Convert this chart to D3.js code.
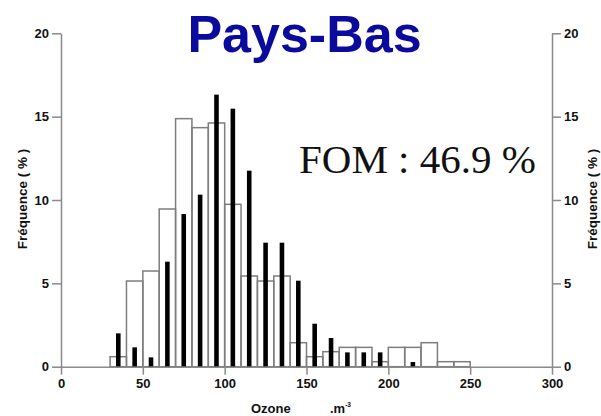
<!DOCTYPE html>
<html>
<head>
<meta charset="utf-8">
<script src="https://cdn.jsdelivr.net/npm/d3@7"></script>
<style>
  html, body { margin: 0; padding: 0; background: #fff; }
  svg { display: block; }
</style>
</head>
<body>
<svg id="chart" width="601" height="416"></svg>
<script>
// Ozone frequency histograms, Pays-Bas
// Open bars: 10-unit bins starting at modelBins, frequency in %
const modelBins = [30, 40, 50, 60, 70, 80, 90, 100, 110, 120, 130, 140, 150, 160, 170, 180, 190, 200, 210, 220, 230, 240];
const modelFreq = [0.6, 5.14, 5.74, 9.46, 14.88, 14.34, 14.62, 9.74, 5.44, 5.14, 5.44, 1.44, 0.6, 0.9, 1.16, 1.16, 0.3, 1.16, 1.16, 1.44, 0.3, 0.3];
// Solid bars: bin centres and frequency in %
const obsCenters = [35, 45, 55, 65, 75, 85, 95, 105, 115, 125, 135, 145, 155, 165, 175, 185, 195, 215];
const obsFreq = [2.0, 1.16, 0.56, 6.3, 9.16, 10.32, 16.32, 15.48, 11.76, 7.44, 7.44, 5.16, 2.58, 1.72, 0.86, 0.86, 0.86, 0.28];
const xTicks = [0, 50, 100, 150, 200, 250, 300];
const yTicks = [0, 5, 10, 15, 20];
const binWidth = 10;
const barHalf = 1.4;

const svg = d3.select("#chart");
const x = d3.scaleLinear().domain([0, 300]).range([61, 552]);
const y = d3.scaleLinear().domain([0, 20]).range([366.7, 33.3]);
const axisColor = "#8a8a8a";
const tickFont = "'Liberation Sans', Arial, sans-serif";

// Title
svg.append("text")
  .attr("x", 304.5).attr("y", 52)
  .attr("text-anchor", "middle")
  .attr("font-family", tickFont)
  .attr("font-weight", "bold")
  .attr("font-size", 52)
  .attr("fill", "#0a0a9c")
  .text("Pays-Bas");

// Open histogram bars
svg.append("g").selectAll("rect")
  .data(modelBins.map((b, i) => ({ b, v: modelFreq[i] })))
  .join("rect")
  .attr("x", d => x(d.b))
  .attr("y", d => y(d.v))
  .attr("width", d => x(d.b + binWidth) - x(d.b))
  .attr("height", d => y(0) - y(d.v))
  .attr("fill", "none")
  .attr("stroke", "#7d7d7d")
  .attr("stroke-width", 1.5);

// Solid bars
svg.append("g").selectAll("rect")
  .data(obsCenters.map((c, i) => ({ c, v: obsFreq[i] })))
  .join("rect")
  .attr("x", d => x(d.c - barHalf))
  .attr("y", d => y(d.v))
  .attr("width", d => x(d.c + barHalf) - x(d.c - barHalf))
  .attr("height", d => y(0) - y(d.v))
  .attr("fill", "#000");

// Axes
function styleAxis(g) {
  g.select(".domain").attr("stroke", axisColor).attr("stroke-width", 1.5);
  g.selectAll(".tick line").attr("stroke", axisColor).attr("stroke-width", 1.5);
  g.selectAll(".tick text")
    .attr("font-family", tickFont)
    .attr("font-weight", "bold")
    .attr("font-size", 13)
    .attr("fill", "#111");
}

svg.append("g")
  .attr("transform", `translate(0,${y(0)})`)
  .call(d3.axisBottom(x).tickValues(xTicks).tickSize(8).tickPadding(4).tickSizeOuter(0))
  .call(styleAxis);

svg.append("g")
  .attr("transform", `translate(${x(0)},0)`)
  .call(d3.axisLeft(y).tickValues(yTicks).tickSize(9).tickPadding(3).tickSizeOuter(0))
  .call(styleAxis);

svg.append("g")
  .attr("transform", `translate(${x(300)},0)`)
  .call(d3.axisRight(y).tickValues(yTicks).tickSize(9).tickPadding(3).tickSizeOuter(0))
  .call(styleAxis);

// Axis titles
[23, 593].forEach(cx => {
  svg.append("text")
    .attr("transform", `translate(${cx},199) rotate(-90)`)
    .attr("text-anchor", "middle")
    .attr("dominant-baseline", "middle")
    .attr("font-family", tickFont)
    .attr("font-weight", "bold")
    .attr("font-size", 13.5)
    .attr("fill", "#111")
    .text("Fréquence ( % )");
});

const xt = svg.append("text")
  .attr("y", 413)
  .attr("font-family", tickFont)
  .attr("font-weight", "bold")
  .attr("font-size", 13)
  .attr("fill", "#111");
xt.append("tspan").attr("x", 251).text("Ozone");
xt.append("tspan").attr("x", 330).text(".m");
xt.append("tspan").attr("dy", -6).attr("font-size", 6.5).text("-3");

// Figure of merit
svg.append("text")
  .attr("x", 299).attr("y", 173)
  .attr("font-family", "'Liberation Serif', 'Times New Roman', serif")
  .attr("font-size", 41)
  .attr("fill", "#111")
  .text("FOM : 46.9 %");
</script>
</body>
</html>
